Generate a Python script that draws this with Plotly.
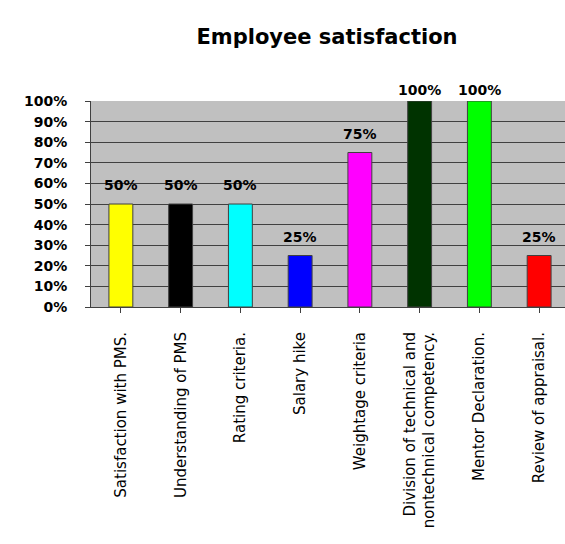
import plotly.graph_objects as go

# Survey results
categories = [
    "Satisfaction with PMS.",
    "Understanding of PMS",
    "Rating criteria.",
    "Salary hike",
    "Weightage criteria",
    "Division of technical and<br>nontechnical competency.",
    "Mentor Declaration.",
    "Review of appraisal.",
]
values = [0.50, 0.50, 0.50, 0.25, 0.75, 1.00, 1.00, 0.25]
bar_colors = ["#FFFF00", "#000000", "#00FFFF", "#0000FF",
              "#FF00FF", "#003300", "#00FF00", "#FF0000"]
y_ticks = [i / 10 for i in range(11)]
y_tick_labels = [f"{i * 10}%" for i in range(11)]

W, H = 565, 544
L, T, B = 91, 101, 237
plot_w = W - L
cat_px = 59.75  # width of one category slot in pixels
x_end = -0.5 + plot_w / cat_px

fig = go.Figure()
fig.add_trace(go.Bar(
    x=list(range(len(categories))),
    y=values,
    width=0.4,
    marker=dict(color=bar_colors, line=dict(color="#404040", width=1)),
    hoverinfo="skip",
))

# value labels above each bar
for i, v in enumerate(values):
    fig.add_annotation(
        x=i, y=v, text=f"<b>{round(v * 100)}%</b>", showarrow=False,
        yanchor="middle", yshift=11 if v >= 1 else 19,
        font=dict(family="DejaVu Sans", size=14, color="#000000"),
        xref="x", yref="y",
    )

fig.update_layout(
    width=W, height=H,
    margin=dict(l=L, r=0, t=T, b=B),
    paper_bgcolor="white",
    plot_bgcolor="#C0C0C0",
    showlegend=False,
    title=dict(
        text="<b>Employee satisfaction</b>",
        font=dict(family="DejaVu Sans", size=21, color="#000000"),
        x=327 / W, xanchor="center", y=1 - 37 / H, yanchor="middle",
    ),
    xaxis=dict(
        range=[-0.5, x_end],
        tickmode="array",
        tickvals=list(range(len(categories))),
        ticktext=categories,
        tickangle=-90,
        tickson="boundaries",
        ticks="outside", ticklen=5, tickcolor="#404040",
        ticklabelstandoff=13,
        tickfont=dict(family="DejaVu Sans", size=15, color="#000000"),
        showline=True, linecolor="#404040", linewidth=1,
        showgrid=False, zeroline=False,
        automargin=False,
    ),
    yaxis=dict(
        range=[0, 1],
        tickmode="array",
        tickvals=y_ticks,
        ticktext=[f"<b>{t}</b>" for t in y_tick_labels],
        ticks="outside", ticklen=5, tickcolor="#404040",
        tickfont=dict(family="DejaVu Sans", size=14, color="#000000"),
        ticklabelstandoff=15,
        showline=True, linecolor="#404040", linewidth=1,
        showgrid=True, gridcolor="#404040", gridwidth=1,
        zeroline=False,
        automargin=False,
    ),
)

fig.write_html("out.html")
